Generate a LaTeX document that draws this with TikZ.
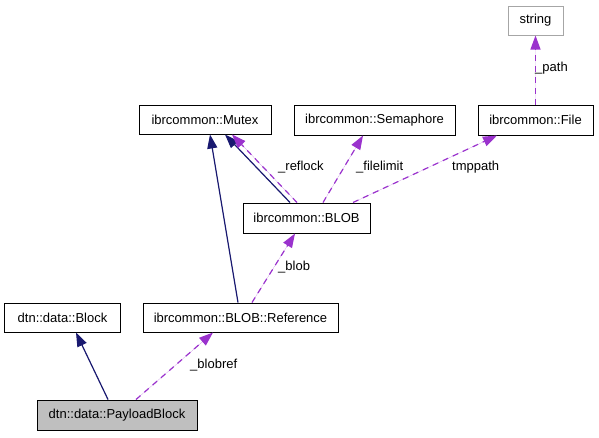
\documentclass[tikz,border=0pt]{standalone}
\usepackage{fontspec}
\setmainfont{Liberation Sans}
\usetikzlibrary{arrows.meta}

\definecolor{inheritcol}{HTML}{191970}
\definecolor{usecol}{HTML}{9A32CD}

\begin{document}
\begin{tikzpicture}[x=1pt, y=-1pt,
        every node/.style={font=\fontsize{13}{15}\selectfont, inner sep=0pt},
        classbox/.style={draw, rectangle, line width=1pt, fill=white},
        inherit/.style={-{Triangle[length=14pt,width=10pt]}, draw=inheritcol, fill=inheritcol, line width=1.2pt},
        usage/.style={-{Triangle[length=14pt,width=10pt]}, draw=usecol, fill=usecol, line width=1.2pt, dash pattern=on 6pt off 5pt},
        edgelabel/.style={anchor=west}]
        \useasboundingbox (0,0) rectangle (599,437);

        % Classes
        \node[classbox, fill=black!25, minimum width=160pt, minimum height=30pt] (payload_block) at (117, 415) {dtn::data::PayloadBlock};
        \node[classbox, minimum width=116pt, minimum height=29pt] (block) at (62.5, 317.5) {dtn::data::Block};
        \node[classbox, minimum width=195pt, minimum height=29pt] (blob_reference) at (240.5, 317.5) {ibrcommon::BLOB::Reference};
        \node[classbox, minimum width=127pt, minimum height=30pt] (blob) at (306.5, 218) {ibrcommon::BLOB};
        \node[classbox, minimum width=132pt, minimum height=29pt] (mutex) at (205, 119.5) {ibrcommon::Mutex};
        \node[classbox, minimum width=161pt, minimum height=30pt] (semaphore) at (374.5, 120) {ibrcommon::Semaphore};
        \node[classbox, minimum width=115pt, minimum height=30pt] (file) at (535.5, 120) {ibrcommon::File};
        \node[classbox, draw=black!35, minimum width=55pt, minimum height=29pt] (string) at (535.5, 20.5) {string};

        % Inheritance
        \draw[inherit] ([xshift=-9pt]payload_block.north) -- ([xshift=13.5pt]block.south);
        \draw[inherit] ([xshift=-2.5pt]blob_reference.north) -- ([xshift=5pt]mutex.south);
        \draw[inherit] ([xshift=-16.5pt]blob.north) -- ([xshift=20pt]mutex.south);

        % Usage
        \draw[usage] ([xshift=19pt]payload_block.north) -- ([xshift=-27.5pt]blob_reference.south);
        \draw[usage] ([xshift=11.5pt]blob_reference.north) -- ([xshift=-11.5pt]blob.south);
        \draw[usage] ([xshift=-9.5pt]blob.north) -- ([xshift=27pt]mutex.south);
        \draw[usage] ([xshift=16.5pt]blob.north) -- ([xshift=-11.5pt]semaphore.south);
        \draw[usage] ([xshift=46.5pt]blob.north) -- ([xshift=-38.5pt]file.south);
        \draw[usage] (file.north) -- (string.south);

        % Labels
        \node[edgelabel] (lbl_blobref) at (190, 365) {\_blobref};
        \node[edgelabel] (lbl_blob) at (278, 267) {\_blob};
        \node[edgelabel] (lbl_reflock) at (278, 167) {\_reflock};
        \node[edgelabel] (lbl_filelimit) at (356, 167) {\_filelimit};
        \node[edgelabel] (lbl_tmppath) at (452, 167) {tmppath};
        \node[edgelabel] (lbl_path) at (535, 68) {\_path};
    \end{tikzpicture}
\end{document}
